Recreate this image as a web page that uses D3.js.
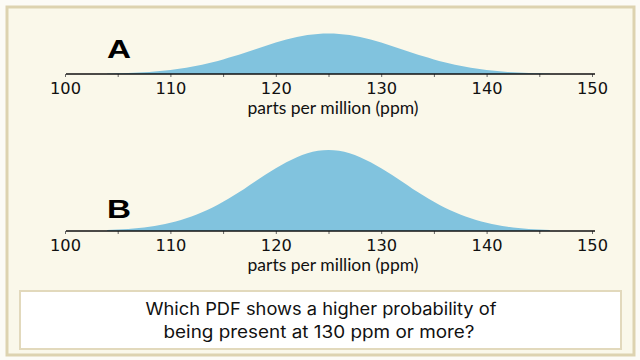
<!DOCTYPE html>
<html><head><meta charset="utf-8">
<script src="https://cdn.jsdelivr.net/npm/d3@7"></script>
<style>html,body{margin:0;padding:0;background:#fcfbf6;}</style>
</head><body>
<svg id="chart" width="640" height="360"></svg>
<script>
// ---- data ----
const ppm = [104,105,106,107,108,109,110,111,112,113,114,115,116,117,118,119,120,121,122,123,124,125,
             126,127,128,129,130,131,132,133,134,135,136,137,138,139,140,141,142,143,144,145,146];
const densityA = [0.011,0.017,0.025,0.037,0.052,0.073,0.101,0.135,0.178,0.230,0.291,0.360,0.438,0.520,0.607,0.693,0.775,0.849,0.912,0.960,0.990,1.000,
                  0.990,0.960,0.912,0.849,0.775,0.693,0.607,0.520,0.438,0.360,0.291,0.230,0.178,0.135,0.101,0.073,0.052,0.037,0.025,0.017,0.011];
const densityB = [0.022,0.034,0.050,0.074,0.104,0.146,0.202,0.270,0.356,0.460,0.582,0.720,0.876,1.040,1.214,1.386,1.550,1.698,1.824,1.920,1.980,2.000,
                  1.980,1.920,1.824,1.698,1.550,1.386,1.214,1.040,0.876,0.720,0.582,0.460,0.356,0.270,0.202,0.146,0.104,0.074,0.050,0.034,0.022];
const tickValues = [100,105,110,115,120,125,130,135,140,145,150];
const panelNames = ["A","B"];
const xAxisTitle = "parts per million (ppm)";
const questionLines = ["Which PDF shows a higher probability of","being present at 130 ppm or more?"];

// ---- drawing ----
const svg = d3.select("#chart");

svg.append("rect").attr("x",7).attr("y",7).attr("width",627).attr("height",348)
   .attr("fill","#faf8ea").attr("stroke","#ddd3b0").attr("stroke-width",3);

const x = d3.scaleLinear().domain([100,150]).range([65,592]);

const panels = [
  {name: panelNames[0], values: densityA, base: 74, nameBase: 57.5},
  {name: panelNames[1], values: densityB, base: 231, nameBase: 218}
];

panels.forEach(p => {
  const y = d3.scaleLinear().domain([0,2]).range([p.base, p.base-81]);
  const g = svg.append("g");
  const pts = ppm.map((v,i)=>({x:v, y:p.values[i]}));
  const area = d3.area().x(d=>x(d.x)).y0(y(0)).y1(d=>y(d.y)).curve(d3.curveMonotoneX);
  g.append("path").datum(pts).attr("d",area).attr("fill","#81c3de");

  const ax = g.append("g").attr("transform",`translate(0,${p.base})`)
    .call(d3.axisBottom(x).tickValues(tickValues).tickSize(3).tickPadding(6)
      .tickFormat(d => d % 10 === 0 ? d : ""));
  ax.select(".domain").remove();
  ax.selectAll(".tick line").attr("stroke","#666");
  ax.selectAll(".tick text").attr("font-family","DejaVu Sans").attr("font-size",15.5).attr("fill","#111")
    .filter(d => d % 10 === 0).attr("textLength",31).attr("lengthAdjust","spacingAndGlyphs");
  ax.append("line").attr("x1",66).attr("x2",595).attr("y1",0).attr("y2",0)
    .attr("stroke","#111").attr("stroke-width",1.5);

  g.append("text").attr("x",333).attr("y",p.base+40).attr("text-anchor","middle")
    .attr("font-family","Lato").attr("font-size",17.5).attr("fill","#111")
    .attr("textLength",171).attr("lengthAdjust","spacingAndGlyphs")
    .text(xAxisTitle);

  g.append("text").attr("x",107).attr("y",p.nameBase)
    .attr("font-family","Liberation Sans").attr("font-weight","bold").attr("font-size",26)
    .attr("textLength",24).attr("lengthAdjust","spacingAndGlyphs")
    .attr("fill","#000").text(p.name);
});

svg.append("rect").attr("x",20).attr("y",291).attr("width",601).attr("height",58)
   .attr("fill","#ffffff").attr("stroke","#e2d9bc").attr("stroke-width",2);

questionLines.forEach((t,i) => {
  svg.append("text").attr("x", i===0 ? 321 : 319).attr("y", 315 + i*23)
    .attr("text-anchor","middle").attr("font-family","Inter").attr("font-size",17)
    .attr("fill","#111")
    .attr("textLength", i===0 ? 351 : 311).attr("lengthAdjust","spacingAndGlyphs")
    .text(t);
});
</script>
</body></html>
